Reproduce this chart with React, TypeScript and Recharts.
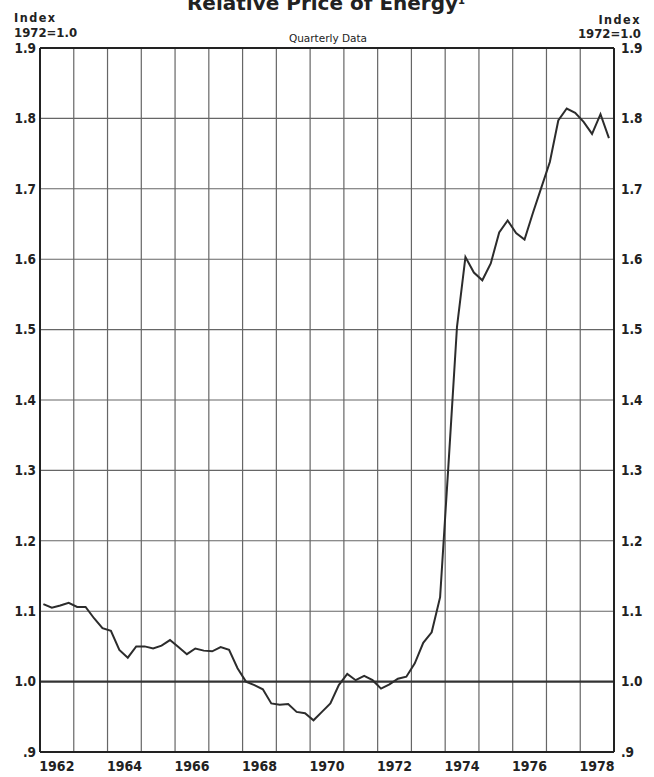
import React from "react";
import { LineChart, Line, XAxis, YAxis, ReferenceLine } from "recharts";

const years = [1962, 1963, 1964, 1965, 1966, 1967, 1968, 1969, 1970, 1971, 1972, 1973, 1974, 1975, 1976, 1977, 1978];
const labelYears = [1962, 1964, 1966, 1968, 1970, 1972, 1974, 1976, 1978];
const yTicks = [0.9, 1.0, 1.1, 1.2, 1.3, 1.4, 1.5, 1.6, 1.7, 1.8, 1.9];

// Relative price of energy, quarterly, 1962Q1 - 1978Q4 (1972 = 1.0)
const energyIndex = [
  1.110, 1.105, 1.108, 1.112,
  1.106, 1.106, 1.090, 1.076,
  1.072, 1.045, 1.034, 1.050,
  1.050, 1.047, 1.051, 1.059,
  1.049, 1.039, 1.047, 1.044,
  1.043, 1.049, 1.045, 1.019,
  1.000, 0.995, 0.989, 0.969,
  0.967, 0.968, 0.957, 0.955,
  0.945, 0.957, 0.969, 0.995,
  1.011, 1.002, 1.008, 1.002,
  0.990, 0.996, 1.004, 1.007,
  1.026, 1.055, 1.070, 1.120,
  1.310, 1.504, 1.603, 1.581,
  1.570, 1.594, 1.638, 1.655,
  1.637, 1.628, 1.666, 1.702,
  1.738, 1.797, 1.814, 1.808,
  1.795, 1.778, 1.806, 1.772,
];

const data = energyIndex.map((v, i) => ({
  t: years[0] + Math.floor(i / 4) + ((i % 4) + 0.4) / 4,
  v,
}));

const FONT = "'DejaVu Sans Condensed', 'Liberation Sans Narrow', sans-serif";
const INK = "#222";
const GRID = "#666";

const tickStyle = { fontFamily: FONT, fontWeight: 700, fontSize: 13.5, fill: INK };
const fmtY = (v: number) => (v < 0.95 ? ".9" : v.toFixed(1));

export default function App() {
  return (
    <div style={{ position: "absolute", left: 0, top: 0, width: 654, height: 777, background: "#fff", overflow: "hidden" }}>
      <LineChart width={654} height={777} data={data} margin={{ top: 48, right: 0, bottom: 0, left: 0 }}>
        <XAxis
          dataKey="t"
          type="number"
          domain={[1962, 1979]}
          ticks={labelYears.map((y) => y + 0.5)}
          tickFormatter={(v: number) => String(Math.floor(v))}
          height={25}
          tickLine={false}
          tickSize={0}
          tickMargin={9}
          axisLine={{ stroke: INK, strokeWidth: 2 }}
          tick={{ ...tickStyle, fontSize: 14 }}
          allowDataOverflow
        />
        <YAxis
          domain={[0.9, 1.9]}
          ticks={yTicks}
          tickFormatter={fmtY}
          width={40}
          tickLine={false}
          tickSize={0}
          tickMargin={4}
          axisLine={{ stroke: INK, strokeWidth: 2 }}
          tick={tickStyle}
          allowDataOverflow
        />
        <YAxis
          yAxisId="right"
          orientation="right"
          domain={[0.9, 1.9]}
          ticks={yTicks}
          tickFormatter={fmtY}
          width={40}
          tickLine={false}
          tickSize={0}
          tickMargin={7}
          axisLine={{ stroke: INK, strokeWidth: 2 }}
          tick={{ ...tickStyle, textAnchor: "start" }}
          allowDataOverflow
        />
        {years.slice(1).map((y) => (
          <ReferenceLine key={"x" + y} x={y} stroke={GRID} strokeWidth={1.2} />
        ))}
        {yTicks.slice(1, -1).map((t) => (
          <ReferenceLine
            key={"y" + t}
            y={t}
            stroke={t === 1.0 ? "#333" : GRID}
            strokeWidth={t === 1.0 ? 2.2 : 1.1}
          />
        ))}
        <ReferenceLine y={1.9} stroke={INK} strokeWidth={2} />
        <Line
          dataKey="v"
          type="linear"
          stroke="#2c2c2c"
          strokeWidth={2}
          dot={false}
          isAnimationActive={false}
        />
      </LineChart>
      <svg width={654} height={777} style={{ position: "absolute", left: 0, top: 0, pointerEvents: "none" }}>
        <text x={326} y={10} textAnchor="middle" fontFamily="'DejaVu Sans', sans-serif" fontWeight={700} fontSize={20} fill={INK}>
          Relative Price of Energy
          <tspan fontSize={10} dy={-6}>1</tspan>
        </text>
        <text x={14} y={22} fontFamily={FONT} fontWeight={700} fontSize={12.5} letterSpacing={1.5} fill={INK}>Index</text>
        <text x={14} y={37} fontFamily={FONT} fontWeight={700} fontSize={13} fill={INK}>1972=1.0</text>
        <text x={641} y={24} textAnchor="end" fontFamily={FONT} fontWeight={700} fontSize={12.5} letterSpacing={1.5} fill={INK}>Index</text>
        <text x={641} y={38} textAnchor="end" fontFamily={FONT} fontWeight={700} fontSize={13} fill={INK}>1972=1.0</text>
        <text x={328} y={42} textAnchor="middle" fontFamily="'DejaVu Sans', sans-serif" fontSize={10.5} fill={INK}>Quarterly Data</text>
      </svg>
    </div>
  );
}
